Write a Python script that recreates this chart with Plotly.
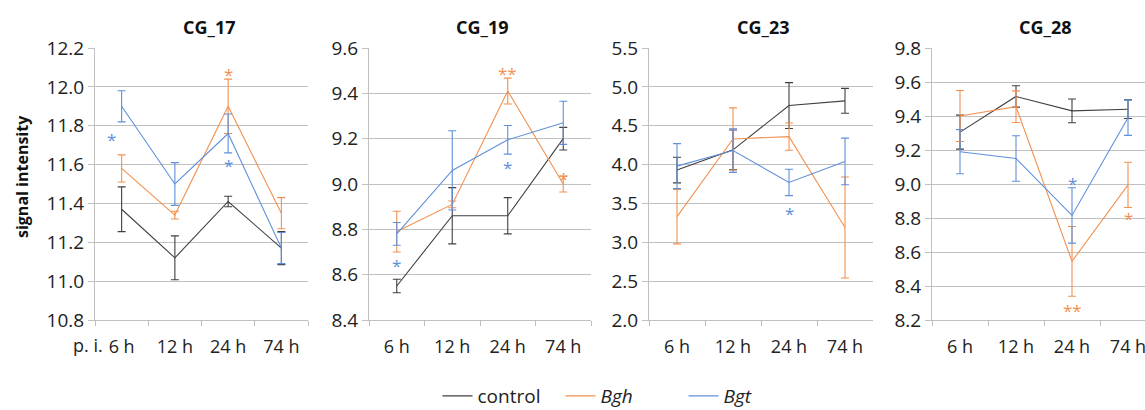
import plotly.graph_objects as go

W, H = 1145, 410

times = ["6 h", "12 h", "24 h", "74 h"]
panel_titles = ["CG_17", "CG_19", "CG_23", "CG_28"]
series_names = ["control", "<i>Bgh</i>", "<i>Bgt</i>"]
series_colors = ["#404040", "#F2914F", "#5F8FDA"]

cg17_control = [11.37, 11.12, 11.41, 11.17]
cg17_control_err = [0.115, 0.113, 0.027, 0.085]
cg17_bgh = [11.58, 11.34, 11.90, 11.35]
cg17_bgh_err = [0.07, 0.02, 0.14, 0.08]
cg17_bgt = [11.90, 11.50, 11.76, 11.17]
cg17_bgt_err = [0.08, 0.11, 0.10, 0.08]

cg19_control = [8.55, 8.86, 8.86, 9.20]
cg19_control_err = [0.03, 0.124, 0.08, 0.05]
cg19_bgh = [8.79, 8.91, 9.41, 9.00]
cg19_bgh_err = [0.09, 0.015, 0.057, 0.035]
cg19_bgt = [8.78, 9.06, 9.195, 9.27]
cg19_bgt_err = [0.05, 0.175, 0.063, 0.095]

cg23_control = [3.93, 4.19, 4.76, 4.82]
cg23_control_err = [0.165, 0.255, 0.295, 0.16]
cg23_bgh = [3.33, 4.33, 4.36, 3.19]
cg23_bgh_err = [0.35, 0.40, 0.175, 0.65]
cg23_bgt = [3.98, 4.18, 3.77, 4.04]
cg23_bgt_err = [0.29, 0.28, 0.17, 0.30]

cg28_control = [9.305, 9.515, 9.43, 9.44]
cg28_control_err = [0.10, 0.063, 0.07, 0.055]
cg28_bgh = [9.40, 9.455, 8.545, 8.995]
cg28_bgh_err = [0.15, 0.093, 0.205, 0.133]
cg28_bgt = [9.19, 9.15, 8.815, 9.39]
cg28_bgt_err = [0.13, 0.134, 0.163, 0.104]

y_ranges = [[10.8, 12.2], [8.4, 9.6], [2.0, 5.5], [8.2, 9.8]]
y_dticks = [0.2, 0.2, 0.5, 0.2]

# significance markers
star_panel = [0, 0, 0, 1, 1, 1, 1, 2, 3, 3, 3]
star_series = [2, 2, 1, 2, 1, 2, 1, 2, 2, 1, 1]
star_time = [0, 2, 2, 0, 2, 2, 3, 2, 2, 2, 3]
star_value = [11.75, 11.615, 12.083, 8.658, 9.504, 9.089, 9.043, 3.426, 9.025, 8.279, 8.818]
star_text = ["*", "*", "*", "*", "**", "*", "*", "*", "*", "**", "*"]
star_xshift = [-10, 0, 0, 0, 0, 0, 0, 0, 0, 0, 0]

panel_data = [
    [(cg17_control, cg17_control_err), (cg17_bgh, cg17_bgh_err), (cg17_bgt, cg17_bgt_err)],
    [(cg19_control, cg19_control_err), (cg19_bgh, cg19_bgh_err), (cg19_bgt, cg19_bgt_err)],
    [(cg23_control, cg23_control_err), (cg23_bgh, cg23_bgh_err), (cg23_bgt, cg23_bgt_err)],
    [(cg28_control, cg28_control_err), (cg28_bgh, cg28_bgh_err), (cg28_bgt, cg28_bgt_err)],
]

# layout (pixels)
px_domains = [(95, 308), (369, 591), (649, 873), (932, 1145)]
title_px = [209, 482, 763, 1045]
x_ranges = [[-0.5, 3.5], [-0.5, 3.5], [-0.5, 3.5], [-0.5, 3.5 - 11 / 56]]
TOP, BOTTOM = 48, 320

FONT = "Open Sans"
GRID = "#c0c0c0"

fig = go.Figure()

for p in range(4):
    suffix = "" if p == 0 else str(p + 1)
    for s in range(3):
        vals, errs = panel_data[p][s]
        fig.add_trace(go.Scatter(
            x=times, y=vals,
            mode="lines",
            line=dict(color=series_colors[s], width=1.1),
            error_y=dict(type="data", array=errs, visible=True,
                         color=series_colors[s], thickness=1.1, width=4),
            name=series_names[s],
            legendgroup=str(s),
            showlegend=(p == 0),
            xaxis="x" + suffix, yaxis="y" + suffix,
        ))
    d0, d1 = px_domains[p]
    fig.update_layout(**{
        "xaxis" + suffix: dict(
            domain=[d0 / W, d1 / W], anchor="y" + suffix,
            type="category", range=x_ranges[p],
            showgrid=False, zeroline=False,
            showline=True, linecolor=GRID, linewidth=1,
            ticks="outside", ticklen=5, tickcolor=GRID, tickson="boundaries",
            tickfont=dict(family=FONT, size=18, color="#222"),
            ticklabelstandoff=10,
        ),
        "yaxis" + suffix: dict(
            domain=[0, 1], anchor="x" + suffix,
            range=y_ranges[p], dtick=y_dticks[p], tick0=y_ranges[p][0],
            tickformat=".1f",
            showgrid=True, gridcolor=GRID, gridwidth=1,
            zeroline=False,
            showline=True, linecolor=GRID, linewidth=1,
            ticks="outside", ticklen=6, tickcolor=GRID,
            tickfont=dict(family=FONT, size=19, color="#222"),
        ),
    })

annotations = []
for p in range(4):
    annotations.append(dict(
        x=title_px[p] / W, y=(BOTTOM - 27) / (BOTTOM - TOP), xref="paper", yref="paper",
        text="<b>" + panel_titles[p] + "</b>", showarrow=False,
        xanchor="center", yanchor="middle",
        font=dict(family=FONT, size=18, color="#111"),
    ))

for i in range(len(star_value)):
    p = star_panel[i]
    suffix = "" if p == 0 else str(p + 1)
    annotations.append(dict(
        x=times[star_time[i]], y=star_value[i],
        xref="x" + suffix, yref="y" + suffix,
        text=star_text[i], showarrow=False,
        xanchor="center", yanchor="middle",
        xshift=star_xshift[i], yshift=-4,
        font=dict(family=FONT, size=17, color=series_colors[star_series[i]]),
    ))

annotations.append(dict(
    x=22 / W, y=(BOTTOM - 177) / (BOTTOM - TOP), xref="paper", yref="paper",
    text="<b>signal intensity</b>", textangle=-90, showarrow=False,
    xanchor="center", yanchor="middle",
    font=dict(family=FONT, size=16, color="#111"),
))

annotations.append(dict(
    x=105 / W, y=-(345 - BOTTOM) / (BOTTOM - TOP), xref="paper", yref="paper",
    text="p. i.", showarrow=False, xanchor="right", yanchor="middle",
    font=dict(family=FONT, size=18, color="#222"),
))

fig.update_layout(
    width=W, height=H,
    margin=dict(l=0, r=0, t=TOP, b=H - BOTTOM, autoexpand=False),
    paper_bgcolor="white", plot_bgcolor="white",
    annotations=annotations,
    showlegend=True,
    legend=dict(
        orientation="h", x=622 / W, xanchor="center",
        y=-(396 - BOTTOM) / (BOTTOM - TOP), yanchor="middle",
        font=dict(family=FONT, size=19, color="#222"),
        entrywidth=78, entrywidthmode="pixels",
        bgcolor="rgba(0,0,0,0)",
    ),
)

fig.write_html("out.html")
